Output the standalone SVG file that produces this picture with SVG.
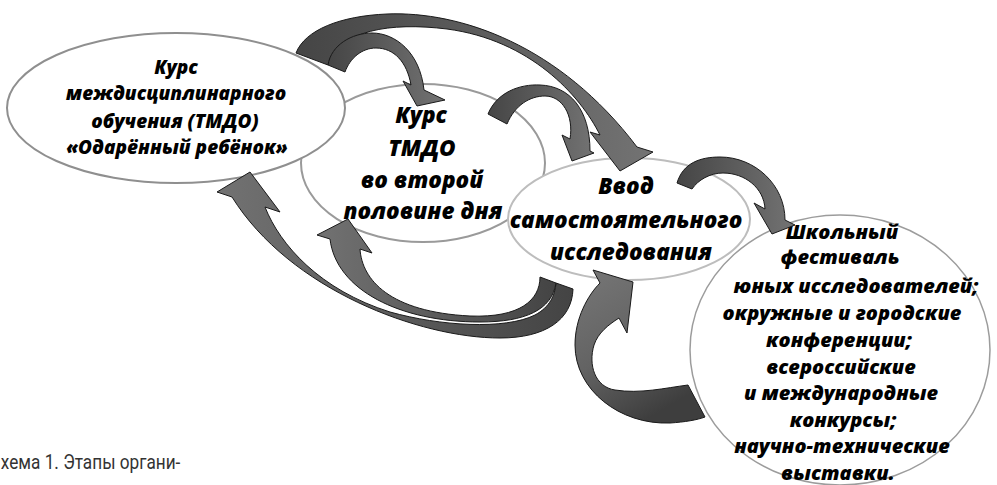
<svg xmlns="http://www.w3.org/2000/svg" width="997" height="485" viewBox="0 0 997 485">
<defs>
<style>
.node{fill:#fff}
.t{font-family:"Open Sans","Noto Sans",sans-serif;font-weight:800;font-style:italic;text-anchor:middle;fill:#000}
.arrow{stroke:#1a1a1a;stroke-width:1;stroke-linejoin:miter}
.cap{font-family:Roboto,"Liberation Sans",sans-serif;font-size:20px;fill:#333}
</style>
<linearGradient id="gL" x1="0" y1="0" x2="1" y2="0">
<stop offset="0" stop-color="#454545"/><stop offset="1" stop-color="#737373"/>
</linearGradient>
<linearGradient id="gR" x1="1" y1="0" x2="0" y2="0">
<stop offset="0" stop-color="#444"/><stop offset="1" stop-color="#727272"/>
</linearGradient>
<linearGradient id="gF" x1="0" y1="0" x2="0.5" y2="1">
<stop offset="0" stop-color="#777"/><stop offset="0.55" stop-color="#636363"/><stop offset="1" stop-color="#3e3e3e"/>
</linearGradient>
</defs>

<g id="node-course-afternoon">
<ellipse class="node" cx="423" cy="163" rx="122" ry="79" stroke="#9a9a9a" stroke-width="2"/>
<text class="t" font-size="22.5" x="421" y="123">Курс</text>
<text class="t" font-size="22.5" x="422" y="156">ТМДО</text>
<text class="t" font-size="22.5" x="422" y="188">во второй</text>
<text class="t" font-size="22.5" x="423" y="219">половине дня</text>
</g>

<g id="node-interdisciplinary">
<ellipse class="node" cx="176" cy="108" rx="169" ry="75" stroke="#8f8f8f" stroke-width="2"/>
<text class="t" font-size="19" x="176" y="74">Курс</text>
<text class="t" font-size="19" x="176" y="100">междисциплинарного</text>
<text class="t" font-size="19" x="175" y="128">обучения (ТМДО)</text>
<text class="t" font-size="19" x="177" y="154">«Одарённый ребёнок»</text>
</g>

<g id="node-research">
<ellipse class="node" cx="629" cy="219" rx="121" ry="61" stroke="#bdbdbd" stroke-width="2"/>
<text class="t" font-size="22.5" x="626" y="194">Ввод</text>
<text class="t" font-size="22.5" x="626" y="228">самостоятельного</text>
<text class="t" font-size="22.5" x="631" y="260">исследования</text>
</g>

<g id="node-events">
<ellipse class="node" cx="840" cy="350" rx="150" ry="135" stroke="#9c9c9c" stroke-width="1.5"/>
<text class="t" font-size="20" x="842" y="239">Школьный</text>
<text class="t" font-size="20" x="840" y="264">фестиваль</text>
<text class="t" font-size="20" x="856" y="293">юных исследователей;</text>
<text class="t" font-size="20" x="842" y="320">окружные и городские</text>
<text class="t" font-size="20" x="839" y="347">конференции;</text>
<text class="t" font-size="20" x="841" y="374">всероссийские</text>
<text class="t" font-size="20" x="841" y="400">и международные</text>
<text class="t" font-size="20" x="843" y="427">конкурсы;</text>
<text class="t" font-size="20" x="842" y="453">научно-технические</text>
<text class="t" font-size="20" x="838" y="480">выставки.</text>
</g>

<g id="connectors">
<path class="arrow" fill="url(#gL)" d="M296,53 C305,30 340,16 387,14 C460,11 560,45 637,147 L653,152 L620,171 L590,132 L600,135 C580,95 530,40 447,29 C390,22 340,30 328,65 Z"/>
<path class="arrow" fill="url(#gL)" d="M328,65 C331,45 352,33 372,33 C395,33 420,52 424,90 L445,100 L417,106 L403,81 L411,85 C407,62 394,48 376,48 C362,48 350,58 345,72 Z"/>
<path class="arrow" fill="url(#gL)" d="M488,114 C497,92 520,84 540,85 C570,86 590,110 590,151 L594,153 L572,161 L562,135 L570,139 C574,115 562,96 545,96 C530,96 515,105 507,124 Z"/>
<path class="arrow" fill="url(#gL)" d="M677,183 C683,163 700,157 720,157 C755,157 785,185 785,220 L795,225 L772,234 L754,203 L765,209 C764,188 745,173 723,173 C710,173 698,180 692,189 Z"/>
<path class="arrow" fill="url(#gF)" d="M688,385 C665,388 640,394 615,390 C595,387 588,365 594,345 C598,333 608,325 619,318 L627,333 L633,282 L593,270 L600,283 C588,295 575,318 575,345 C575,390 620,425 670,423 C685,422 697,420 705,417 Z"/>
<path class="arrow" fill="url(#gR)" d="M573,289 C572,320 545,338 500,338 C420,338 290,290 232,197 L217,192 L250,172 L280,212 L265,207 C280,245 320,290 390,312 C440,326 505,330 535,315 C550,307 555,295 556,283 Z"/>
<path class="arrow" fill="url(#gR)" d="M556,283 C552,310 525,322 480,322 C400,322 336,290 330,239 L317,235 L348,219 L372,253 L360,249 C362,280 390,312 470,316 C520,318 540,300 540,277 Z"/>
</g>

<text id="caption" class="cap" transform="scale(0.86,1)" x="1" y="469">хема 1. Этапы органи-</text>
</svg>
